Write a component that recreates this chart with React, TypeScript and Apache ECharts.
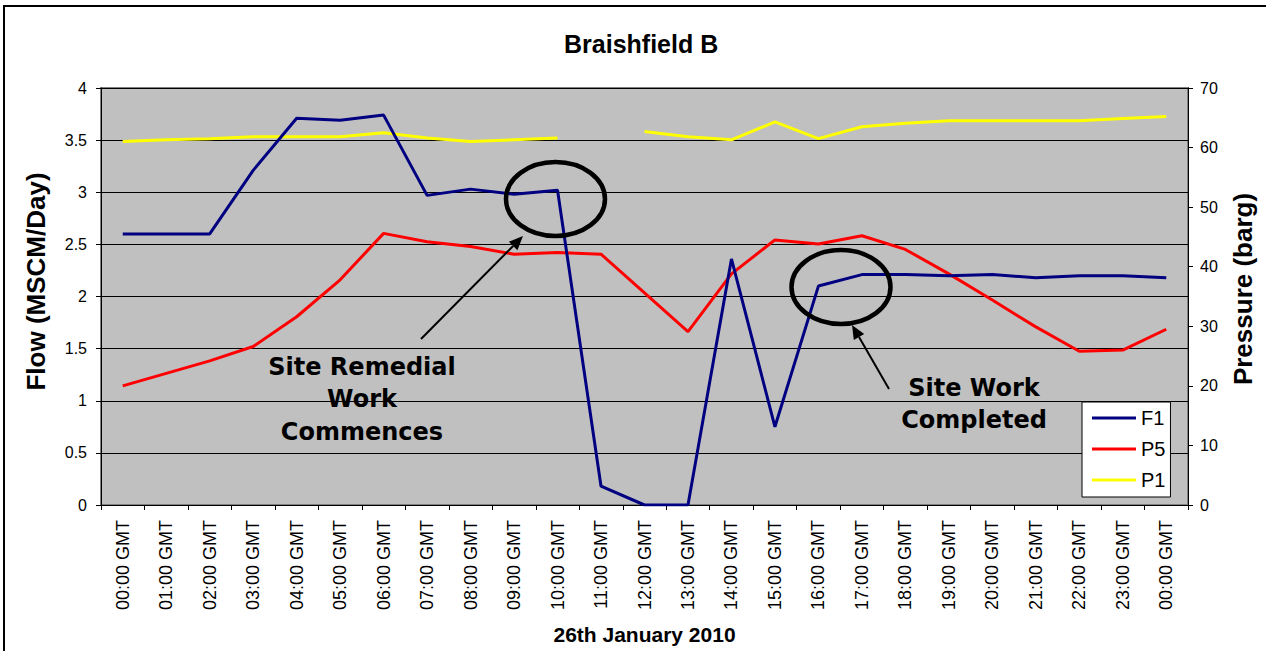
import React, { useEffect, useRef } from "react";
import * as echarts from "echarts";

const categories: string[] = [
  "00:00 GMT", "01:00 GMT", "02:00 GMT", "03:00 GMT", "04:00 GMT", "05:00 GMT",
  "06:00 GMT", "07:00 GMT", "08:00 GMT", "09:00 GMT", "10:00 GMT", "11:00 GMT",
  "12:00 GMT", "13:00 GMT", "14:00 GMT", "15:00 GMT", "16:00 GMT", "17:00 GMT",
  "18:00 GMT", "19:00 GMT", "20:00 GMT", "21:00 GMT", "22:00 GMT", "23:00 GMT",
  "00:00 GMT",
];

// Flow (MSCM/Day) - left axis
const f1: number[] = [
  2.6, 2.6, 2.6, 3.21, 3.71, 3.69, 3.74, 2.97, 3.03, 2.98, 3.02, 0.18,
  0, 0, 2.36, 0.75, 2.1, 2.21, 2.21, 2.2, 2.21, 2.18, 2.2, 2.2, 2.18,
];

// Pressure (barg) - right axis
const p5: number[] = [
  20.0, 22.1, 24.2, 26.6, 31.6, 37.8, 45.6, 44.2, 43.4, 42.1, 42.4, 42.1,
  35.6, 29.1, 38.8, 44.5, 43.8, 45.2, 42.9, 38.8, 34.4, 29.9, 25.8, 26.0, 29.5,
];

const p1: (number | null)[] = [
  61.0, 61.3, 61.5, 61.8, 61.8, 61.8, 62.5, 61.6, 61.0, 61.3, 61.6, null,
  62.7, 61.8, 61.3, 64.3, 61.5, 63.5, 64.1, 64.5, 64.5, 64.5, 64.5, 64.9, 65.2,
];

const leftTicks = { min: 0, max: 4, interval: 0.5 };
const rightTicks = { min: 0, max: 70, interval: 10 };

const FONT = "'Liberation Sans', Arial, sans-serif";
const ANNOT_FONT = "'DejaVu Sans', Verdana, sans-serif";

export default function App() {
  const ref = useRef<HTMLDivElement>(null);

  useEffect(() => {
    if (!ref.current) return;
    const chart = echarts.init(ref.current, null, { renderer: "svg" });

    const arrow = (x1: number, y1: number, x2: number, y2: number) => {
      const dx = x2 - x1;
      const dy = y2 - y1;
      const len = Math.sqrt(dx * dx + dy * dy);
      const ux = dx / len;
      const uy = dy / len;
      const hl = 14;
      const hw = 6;
      const bx = x2 - hl * ux;
      const by = y2 - hl * uy;
      const px = -uy;
      const py = ux;
      return [
        {
          type: "line",
          shape: { x1, y1, x2: bx, y2: by },
          style: { stroke: "#000", lineWidth: 2 },
        },
        {
          type: "polygon",
          shape: {
            points: [
              [x2, y2],
              [bx + hw * px, by + hw * py],
              [bx - hw * px, by - hw * py],
            ],
          },
          style: { fill: "#000" },
        },
      ];
    };

    const option: any = {
      animation: false,
      backgroundColor: "#fff",
      textStyle: { fontFamily: FONT },
      title: {
        text: "Braishfield B",
        left: 564,
        top: 31,
        padding: 0,
        textStyle: { fontFamily: FONT, fontWeight: "bold", fontSize: 25, color: "#000" },
      },
      grid: {
        left: 101,
        top: 88,
        width: 1087,
        height: 417,
        show: true,
        backgroundColor: "#C0C0C0",
        borderColor: "#808080",
        borderWidth: 2,
      },
      legend: {
        orient: "vertical",
        left: 1082,
        top: 402,
        backgroundColor: "#fff",
        borderColor: "#000",
        borderWidth: 1,
        padding: [5, 5, 6, 10],
        itemGap: 9,
        itemWidth: 44,
        itemHeight: 3,
        icon: "rect",
        textStyle: { fontFamily: FONT, fontSize: 20, color: "#000", lineHeight: 22 },
        data: ["F1", "P5", "P1"],
      },
      xAxis: {
        type: "category",
        data: categories,
        boundaryGap: true,
        name: "26th January 2010",
        nameLocation: "middle",
        nameGap: 119,
        nameTextStyle: { fontFamily: FONT, fontWeight: "bold", fontSize: 21, color: "#000" },
        axisLine: { lineStyle: { color: "#000", width: 1 } },
        axisTick: { show: true, interval: 0, length: 5, lineStyle: { color: "#000" } },
        axisLabel: {
          interval: 0,
          rotate: 90,
          margin: 15,
          fontFamily: FONT,
          fontSize: 18,
          color: "#000",
        },
        splitLine: { show: false },
      },
      yAxis: [
        {
          type: "value",
          position: "left",
          min: leftTicks.min,
          max: leftTicks.max,
          interval: leftTicks.interval,
          name: "Flow (MSCM/Day)",
          nameLocation: "middle",
          nameRotate: 90,
          nameGap: 52,
          nameTextStyle: { fontFamily: FONT, fontWeight: "bold", fontSize: 26, color: "#000", padding: [0, 0, 0, 30] },
          axisLine: { show: true, lineStyle: { color: "#000", width: 1 } },
          axisTick: { show: true, length: 5, lineStyle: { color: "#000" } },
          axisLabel: { margin: 14, fontFamily: FONT, fontSize: 16, color: "#000" },
          splitLine: { show: true, lineStyle: { color: "#000", width: 1 } },
        },
        {
          type: "value",
          position: "right",
          min: rightTicks.min,
          max: rightTicks.max,
          interval: rightTicks.interval,
          name: "Pressure (barg)",
          nameLocation: "middle",
          nameRotate: 90,
          nameGap: 42,
          nameTextStyle: { fontFamily: FONT, fontWeight: "bold", fontSize: 26, color: "#000", padding: [0, 0, 0, 15] },
          axisLine: { show: true, lineStyle: { color: "#000", width: 1 } },
          axisTick: { show: true, length: 5, lineStyle: { color: "#000" } },
          axisLabel: { margin: 12, fontFamily: FONT, fontSize: 16, color: "#000" },
          splitLine: { show: false },
        },
      ],
      series: [
        {
          name: "F1",
          type: "line",
          yAxisIndex: 0,
          data: f1,
          symbol: "none",
          lineStyle: { color: "#000080", width: 3 },
          itemStyle: { color: "#000080" },
          z: 4,
        },
        {
          name: "P5",
          type: "line",
          yAxisIndex: 1,
          data: p5,
          symbol: "none",
          lineStyle: { color: "#FF0000", width: 3 },
          itemStyle: { color: "#FF0000" },
          z: 3,
        },
        {
          name: "P1",
          type: "line",
          yAxisIndex: 1,
          data: p1,
          symbol: "none",
          connectNulls: false,
          lineStyle: { color: "#FFFF00", width: 3 },
          itemStyle: { color: "#FFFF00" },
          z: 3,
        },
      ],
      graphic: [
        {
          type: "rect",
          shape: { x: 4, y: 6, width: 1400, height: 800 },
          style: { fill: "none", stroke: "#000", lineWidth: 2 },
          z: -10,
          silent: true,
        },
        {
          type: "ellipse",
          shape: { cx: 555.5, cy: 199, rx: 49.5, ry: 37 },
          style: { fill: "none", stroke: "#000", lineWidth: 4.5 },
          z: 100,
        },
        {
          type: "ellipse",
          shape: { cx: 841, cy: 287, rx: 49.5, ry: 37 },
          style: { fill: "none", stroke: "#000", lineWidth: 4.5 },
          z: 100,
        },
        ...arrow(421, 339, 523, 236).map((e) => ({ ...e, z: 100 })),
        ...arrow(889, 389, 852, 325).map((e) => ({ ...e, z: 100 })),
        {
          type: "text",
          x: 362,
          y: 399,
          z: 100,
          style: {
            text: "Site Remedial\nWork\nCommences",
            fill: "#000",
            font: `bold 24px ${ANNOT_FONT}`,
            lineHeight: 32.5,
            align: "center",
            verticalAlign: "middle",
          },
        },
        {
          type: "text",
          x: 974,
          y: 404,
          z: 100,
          style: {
            text: "Site Work\nCompleted",
            fill: "#000",
            font: `bold 24px ${ANNOT_FONT}`,
            lineHeight: 32,
            align: "center",
            verticalAlign: "middle",
          },
        },
      ],
    };

    chart.setOption(option);
    return () => chart.dispose();
  }, []);

  return (
    <div
      ref={ref}
      style={{ position: "absolute", left: 0, top: 0, width: 1266, height: 651 }}
    />
  );
}
